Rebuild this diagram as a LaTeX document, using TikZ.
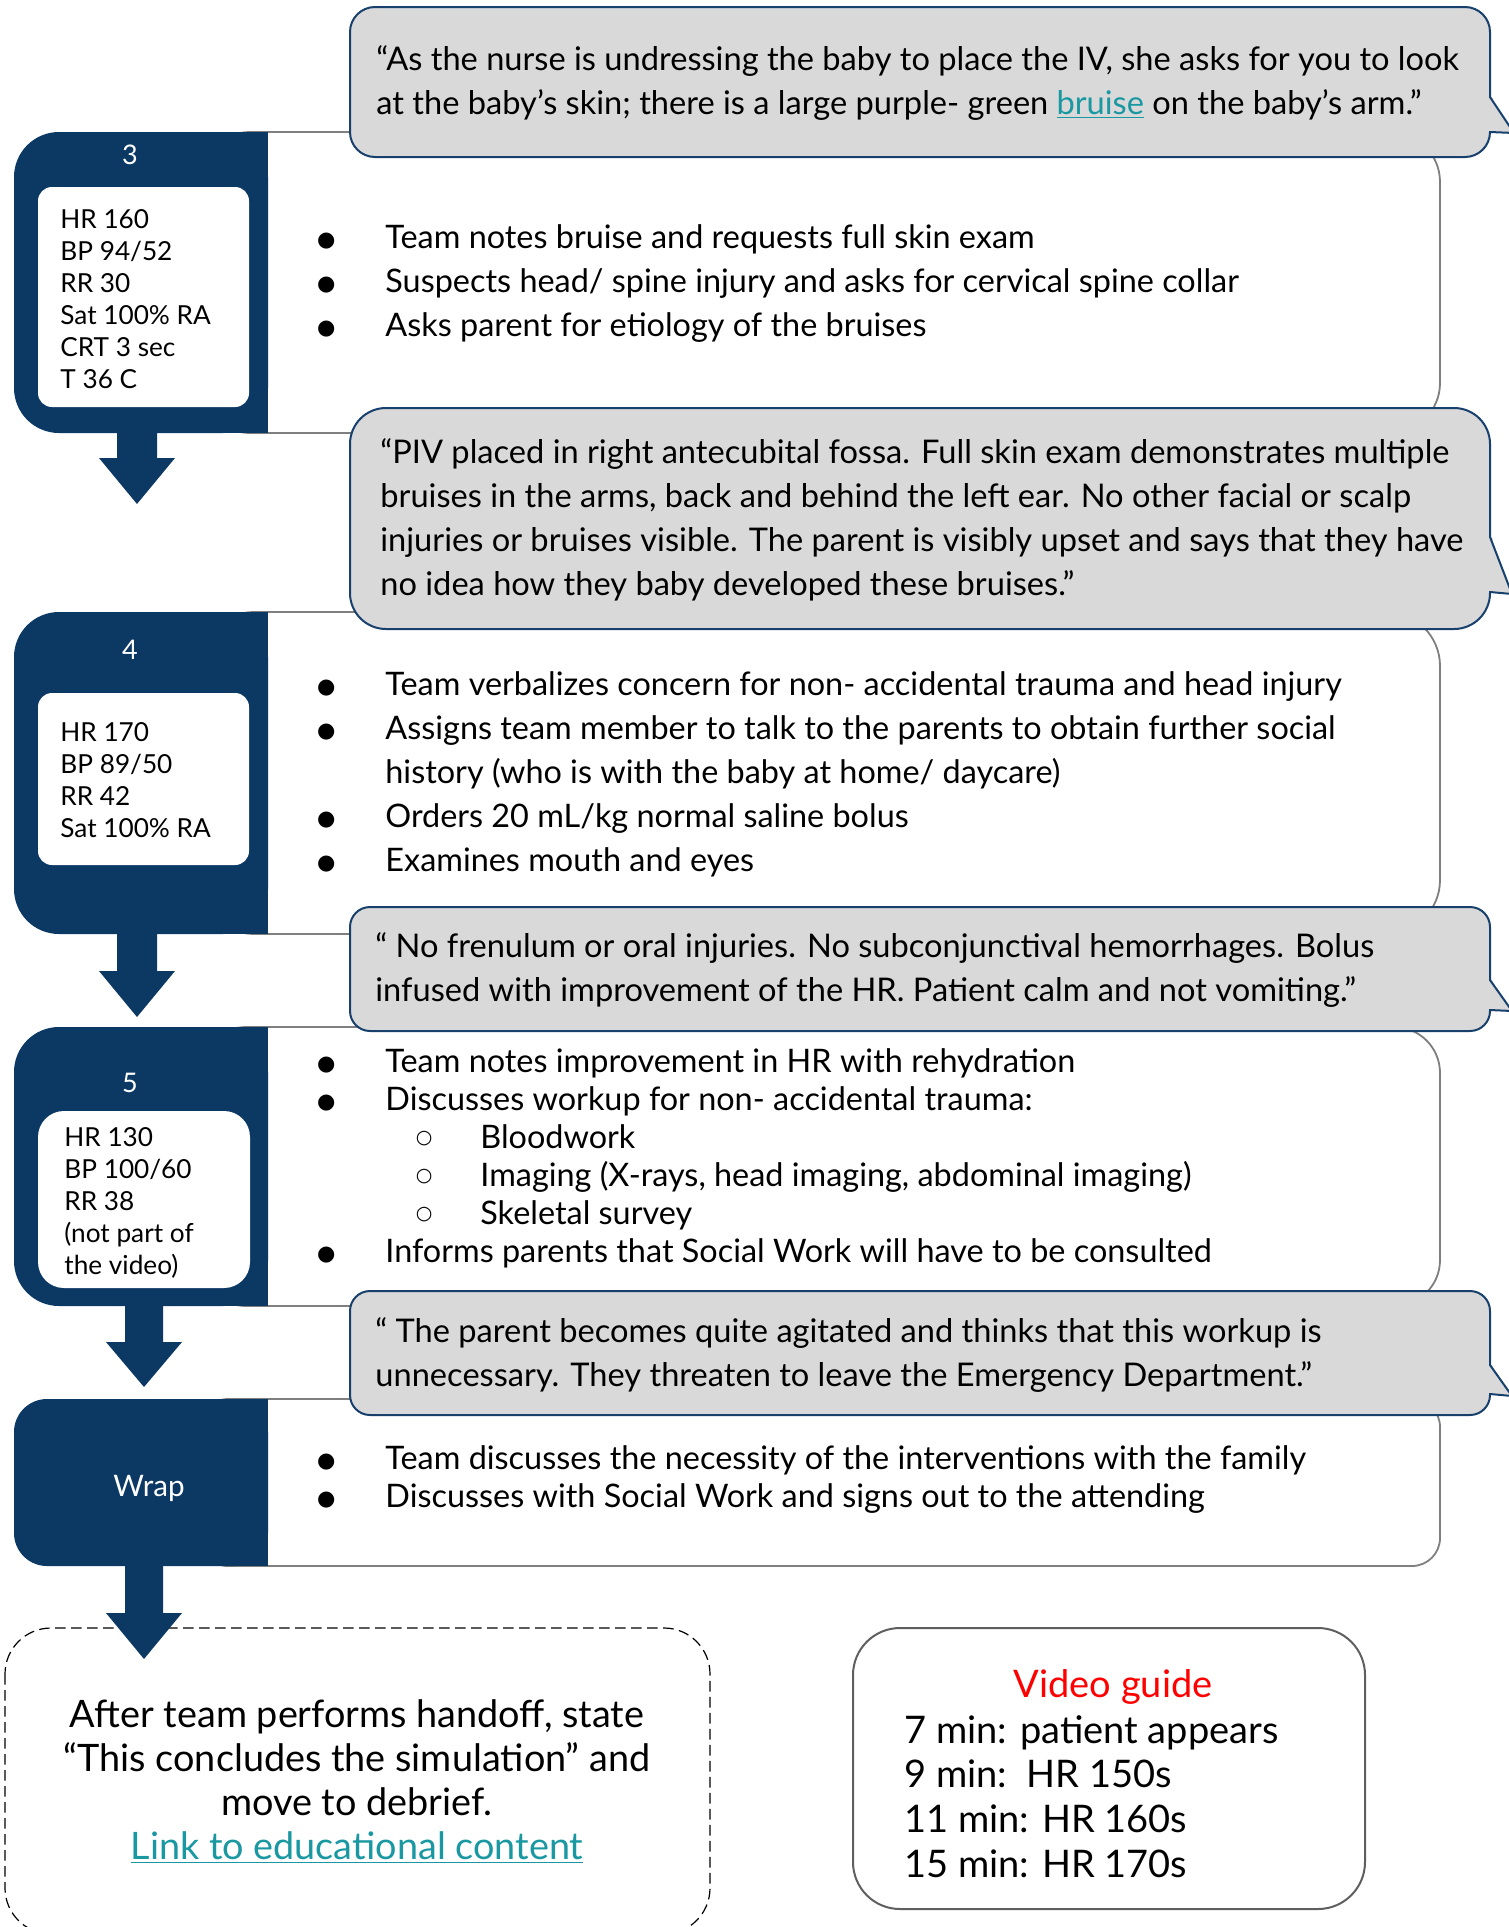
\documentclass[tikz,border=0pt]{standalone}
\usepackage{fontspec}
\setmainfont{Lato}
\newfontfamily\symf{DejaVu Sans}
\definecolor{navy}{HTML}{0C3864}
\definecolor{calgray}{HTML}{D9D9D9}
\definecolor{calline}{HTML}{17406D}
\definecolor{panelline}{HTML}{7F7F7F}
\definecolor{linkteal}{HTML}{1A98A2}
\definecolor{boxline}{HTML}{5F5F5F}
\newcommand\bul{\llap{\raisebox{1pt}{\symf\fontsize{10.5}{10}\selectfont ●}\hspace{25pt}}}
\newcommand\sbul{\hspace{47.5pt}\llap{\raisebox{2.2pt}{\symf\fontsize{9.5}{9}\selectfont ○}\hspace{24pt}}}
\newcommand\lnk[1]{\textcolor{linkteal}{\underline{#1}}}
% x1 y1 x2 y2 radius tailtop tailbottom tipx tipy
\newcommand\callout[9]{%
  \draw[calbox, rounded corners=#5] (#1,#2) rectangle (#3,#4);
  \fill[calgray] (#3-3,#6+1) rectangle (#3+3,#7-1);
  \draw[calbox, line join=miter] (#3,#6) -- (#8,#9) -- (#3,#7);
}
% centre x, top y, head top y, tip y, half shaft, half head
\newcommand\blockarrow[6]{%
  \fill[navy] (#1-#5,#2) -- (#1+#5,#2) -- (#1+#5,#3) -- (#1+#6,#3) -- (#1,#4)
    -- (#1-#6,#3) -- (#1-#5,#3) -- cycle;
}
\begin{document}
\begin{tikzpicture}[x=0.5pt,y=-0.5pt,
  panel/.style={draw=panelline, line width=0.9pt, fill=white},
  calbox/.style={draw=calline, line width=1pt, fill=calgray},
  txt/.style={inner sep=0pt, align=left, anchor=base west, text=black},
  body/.style={txt, font=\fontsize{16.2}{22}\selectfont},
  bodytight/.style={txt, font=\fontsize{16.2}{19}\selectfont},
  ctext/.style={txt, font=\fontsize{16.3}{22}\selectfont},
  vit/.style={txt, font=\fontsize{13.1}{16}\selectfont},
  num/.style={inner sep=0pt, text=white, font=\fontsize{13.5}{16}\selectfont},
  big/.style={inner sep=0pt, align=center, anchor=base, font=\fontsize{18.9}{22}\selectfont},
  vg/.style={txt, font=\fontsize{19}{22.3}\selectfont},
]
\useasboundingbox (0,0) rectangle (1509,1927);

% ---------- panels ----------
\draw[panel, rounded corners=25pt] (200,132) rectangle (1440,433);
\draw[panel, rounded corners=27pt] (200,612) rectangle (1440,934);
\draw[panel, rounded corners=23pt] (200,1027) rectangle (1440,1306);
\draw[panel, rounded corners=14pt] (200,1399) rectangle (1440,1566);

% ---------- dark step boxes ----------
\fill[navy, rounded corners=22.5pt] (14,132) rectangle (268,433);
\fill[navy] (200,132) rectangle (268,433);
\fill[navy, rounded corners=22.5pt] (14,612) rectangle (268,934);
\fill[navy] (200,612) rectangle (268,934);
\fill[navy, rounded corners=22.5pt] (14,1027) rectangle (268,1306);
\fill[navy] (200,1027) rectangle (268,1306);
\fill[navy, rounded corners=16.5pt] (14,1399) rectangle (268,1566);
\fill[navy] (200,1399) rectangle (268,1566);

% inner white boxes
\fill[white, rounded corners=7pt] (38,187) rectangle (249,407);
\fill[white, rounded corners=7pt] (38,693) rectangle (249,865);
\fill[white, rounded corners=13pt] (38,1111) rectangle (250,1288);

% step labels
\node[num] (n3) at (130,155) {3};
\node[num] (n4) at (130,650) {4};
\node[num] (n5) at (130,1083) {5};
\node[num, font=\fontsize{14.8}{16}\selectfont] (nw) at (149,1488) {Wrap};

% vitals (base anchor = last line)
\node[vit] (v3) at (60,388) {HR 160\\BP 94/52\\RR 30\\Sat 100\% RA\\CRT 3 sec\\T 36 C};
\node[vit] (v4) at (60,837) {HR 170\\BP 89/50\\RR 42\\Sat 100\% RA};
\node[vit] (v5) at (64,1274) {HR 130\\BP 100/60\\RR 38\\(not part of\\the video)};

% bullets
\node[body] (b3) at (385,336) {\bul Team notes bruise and requests full skin exam\\
\bul Suspects head/ spine injury and asks for cervical spine collar\\
\bul Asks parent for etiology of the bruises};
\node[body] (b4) at (385,871) {\bul Team verbalizes concern for non- accidental trauma and head injury\\
\bul Assigns team member to talk to the parents to obtain further social\\
history (who is with the baby at home/ daycare)\\
\bul Orders 20 mL/kg normal saline bolus\\
\bul Examines mouth and eyes};
\node[bodytight] (b5) at (385,1262) {\bul Team notes improvement in HR with rehydration\\
\bul Discusses workup for non- accidental trauma:\\
\sbul Bloodwork\\
\sbul Imaging (X-rays, head imaging, abdominal imaging)\\
\sbul Skeletal survey\\
\bul Informs parents that Social Work will have to be consulted};
\node[bodytight] (bw) at (385,1507) {\bul Team discusses the necessity of the interventions with the family\\
\bul Discusses with Social Work and signs out to the attending};

% ---------- callouts ----------
\callout{350}{7}{1490}{157}{12.5pt}{97}{132}{1514}{133}
\node[ctext] (c1) at (376,114) {“As the nurse is undressing the baby to place the IV, she asks for you to look\\
at the baby’s skin; there is a large purple- green \lnk{bruise} on the baby’s arm.”};

\callout{350}{408}{1490}{629}{18pt}{537}{592}{1512}{594}
\node[ctext] (c2) at (380,595) {“PIV placed in right antecubital fossa. Full skin exam demonstrates multiple\\
bruises in the arms, back and behind the left ear. No other facial or scalp\\
injuries or bruises visible. The parent is visibly upset and says that they have\\
no idea how they baby developed these bruises.”};

\callout{350}{907}{1490}{1031}{10pt}{980}{1010}{1512}{1011}
\node[ctext] (c3) at (375,1001) {“ No frenulum or oral injuries. No subconjunctival hemorrhages. Bolus\\
infused with improvement of the HR. Patient calm and not vomiting.”};

\callout{350}{1291}{1490}{1415}{10pt}{1365}{1394}{1512}{1396}
\node[ctext] (c4) at (375,1386) {“ The parent becomes quite agitated and thinks that this workup is\\
unnecessary. They threaten to leave the Emergency Department.”};

% ---------- bottom boxes ----------
\draw[black, line width=0.6pt, dash pattern=on 5.3pt off 2.7pt, rounded corners=23pt] (5,1628) rectangle (710,1934);
\node[big] (end) at (357,1859) {After team performs handoff, state\\
“This concludes the simulation” and\\
move to debrief.\\
\lnk{Link to educational content}};

\draw[boxline, line width=1pt, fill=white, rounded corners=23.5pt] (853,1628) rectangle (1365,1909);
\node[inner sep=0pt, anchor=base, text=red, font=\fontsize{19}{22}\selectfont] (vgt) at (1113,1697) {Video guide};
\node[vg] (vgl) at (904,1877) {7 min: patient appears\\
9 min:\ \ HR 150s\\
11 min: HR 160s\\
15 min: HR 170s};

% ---------- arrows ----------
\blockarrow{137}{433}{458}{504}{20}{38}
\blockarrow{137}{934}{971}{1017}{20}{38}
\blockarrow{144}{1305}{1342}{1387}{19}{38}
\blockarrow{144}{1565}{1613}{1659}{19}{38}
\end{tikzpicture}
\end{document}
